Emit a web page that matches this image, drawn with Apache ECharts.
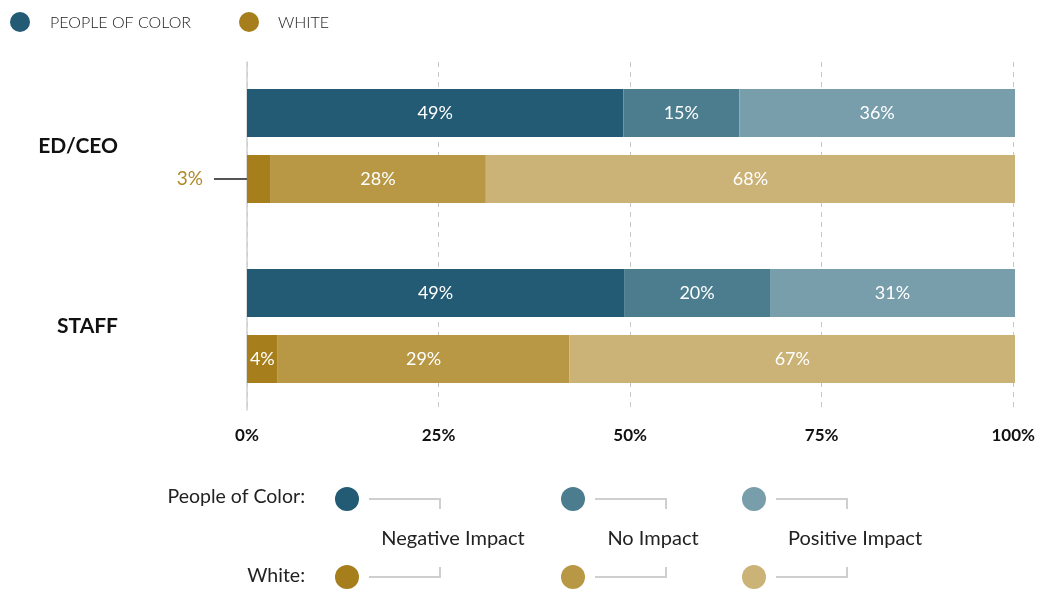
<!DOCTYPE html>
<html>
<head>
<meta charset="utf-8">
<script src="https://cdn.jsdelivr.net/npm/echarts@6/dist/echarts.min.js"></script>
<style>html,body{margin:0;padding:0;background:#fff}#c{width:1038px;height:590px}</style>
</head>
<body>
<div id="c"></div>
<script>
// ---- data ----
var categories = ['ED/CEO', 'STAFF'];
var xTicks = [0, 25, 50, 75, 100];
// bar lengths (percent of full width) as drawn
var pocNegative = [49, 49.1];
var pocNoImpact = [15.1, 19];
var pocPositive = [35.9, 31.9];
var whiteNegative = [3, 4];
var whiteNoImpact = [28.1, 38];
var whitePositive = [68.9, 58];
// printed labels
var pocNegativeLabels = ['49%', '49%'];
var pocNoImpactLabels = ['15%', '20%'];
var pocPositiveLabels = ['36%', '31%'];
var whiteNegativeLabels = ['3%', '4%'];
var whiteNoImpactLabels = ['28%', '29%'];
var whitePositiveLabels = ['68%', '67%'];
var impactNames = ['Negative Impact', 'No Impact', 'Positive Impact'];
var groupNames = ['PEOPLE OF COLOR', 'WHITE'];
var rowNames = ['People of Color:', 'White:'];

var pocColors = ['#225b73', '#4c7d8f', '#789eac'];
var whiteColors = ['#a67f1c', '#b99845', '#cbb276'];
var FONT = 'Lato, "Noto Sans", sans-serif';

function mk(name, stack, values, labels, color, special) {
  return {
    name: name, type: 'bar', stack: stack, xAxisIndex: 0, yAxisIndex: 0,
    barWidth: 48, barGap: '37.5%',
    itemStyle: { color: color },
    label: {
      show: true, position: 'inside', color: '#fff', fontSize: 18, fontFamily: FONT,
      formatter: function (p) { return labels[p.dataIndex]; }
    },
    emphasis: { disabled: true },
    data: values.map(function (v, i) {
      if (special && special[i]) return { value: v, label: special[i] };
      return v;
    })
  };
}

var chart = echarts.init(document.getElementById('c'), null, { renderer: 'canvas' });

var graphic = [];
// top legend
graphic.push({ type: 'circle', shape: { cx: 20, cy: 22, r: 10 }, style: { fill: pocColors[0] } });
graphic.push({ type: 'text', x: 50, y: 23, style: { text: groupNames[0], fill: '#222', font: '300 16px ' + FONT, verticalAlign: 'middle' } });
graphic.push({ type: 'circle', shape: { cx: 249, cy: 22, r: 10 }, style: { fill: whiteColors[0] } });
graphic.push({ type: 'text', x: 278, y: 23, style: { text: groupNames[1], fill: '#222', font: '300 16px ' + FONT, verticalAlign: 'middle' } });

// bottom legend
graphic.push({ type: 'text', x: 305, y: 497, style: { text: rowNames[0], fill: '#222', font: '19.5px ' + FONT, align: 'right', verticalAlign: 'middle' } });
graphic.push({ type: 'text', x: 305, y: 576, style: { text: rowNames[1], fill: '#222', font: '19.5px ' + FONT, align: 'right', verticalAlign: 'middle' } });
var legX = [347, 573, 754];
var labX = [453, 653, 855];
for (var k = 0; k < 3; k++) {
  var cx = legX[k];
  graphic.push({ type: 'circle', shape: { cx: cx, cy: 499, r: 12 }, style: { fill: pocColors[k] } });
  graphic.push({ type: 'circle', shape: { cx: cx, cy: 577, r: 12 }, style: { fill: whiteColors[k] } });
  graphic.push({ type: 'polyline', shape: { points: [[cx + 22, 499], [cx + 93, 499], [cx + 93, 509]] }, style: { stroke: '#cfcfcf', lineWidth: 2, fill: null } });
  graphic.push({ type: 'polyline', shape: { points: [[cx + 93, 567], [cx + 93, 577], [cx + 22, 577]] }, style: { stroke: '#cfcfcf', lineWidth: 2, fill: null } });
  graphic.push({ type: 'text', x: labX[k], y: 539, style: { text: impactNames[k], fill: '#222', font: '20px ' + FONT, align: 'center', verticalAlign: 'middle' } });
}

var option = {
  backgroundColor: '#fff',
  animation: false,
  grid: [
    { left: 247, right: 23, top: 56, height: 360 },
    { left: 247, right: 23, top: 62, bottom: 180 }
  ],
  xAxis: [
    { gridIndex: 0, type: 'value', min: 0, max: 100, interval: 25, show: false },
    { gridIndex: 1, type: 'value', min: 0, max: 100, interval: 25,
      axisLine: { show: false }, axisTick: { show: false },
      splitLine: { show: true, lineStyle: { color: '#c8c8c8', type: [5, 5], width: 1 } },
      axisLabel: { formatter: '{value}%', color: '#111', fontSize: 17, fontWeight: 'bold', fontFamily: FONT, margin: 17 } }
  ],
  yAxis: [
    { gridIndex: 0, type: 'category', data: categories, inverse: true,
      axisLine: { show: false }, axisTick: { show: false }, splitLine: { show: false },
      axisLabel: { color: '#111', fontSize: 21, fontWeight: 'bold', fontFamily: FONT, margin: 129, padding: [4, 0, 0, 0] } },
    { gridIndex: 1, type: 'value', min: 0, max: 1,
      axisLine: { show: true, lineStyle: { color: '#d0d0d0', width: 1.5 } },
      axisTick: { show: false }, axisLabel: { show: false }, splitLine: { show: false } }
  ],
  graphic: graphic,
  series: [
    mk('POC Negative', 'poc', pocNegative, pocNegativeLabels, pocColors[0]),
    mk('POC No Impact', 'poc', pocNoImpact, pocNoImpactLabels, pocColors[1]),
    mk('POC Positive', 'poc', pocPositive, pocPositiveLabels, pocColors[2]),
    mk('White Negative', 'white', whiteNegative, whiteNegativeLabels, whiteColors[0], [{
      show: true, position: 'left', distance: 0,
      formatter: '{t|' + whiteNegativeLabels[0] + '}{g|}{ln|}',
      rich: {
        t: { color: '#b08a2a', fontSize: 19, fontFamily: FONT },
        g: { width: 11 },
        ln: { width: 33, height: 2, backgroundColor: '#555' }
      }
    }, null]),
    mk('White No Impact', 'white', whiteNoImpact, whiteNoImpactLabels, whiteColors[1]),
    mk('White Positive', 'white', whitePositive, whitePositiveLabels, whiteColors[2])
  ]
};
chart.setOption(option);
</script>
</body>
</html>
